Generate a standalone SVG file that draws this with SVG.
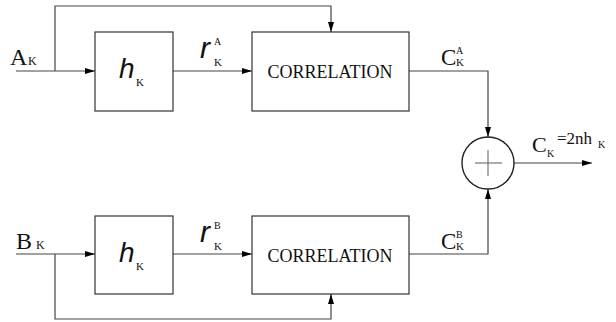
<svg xmlns="http://www.w3.org/2000/svg" width="616" height="322" viewBox="0 0 616 322">
<style>
.box{fill:#fff;stroke:#333;stroke-width:1.2}
.ln{fill:none;stroke:#444;stroke-width:1.2}
.s{font-family:"Liberation Serif","Times New Roman",serif;fill:#111}
.i{font-family:"Liberation Sans",Arial,sans-serif;font-style:italic;fill:#111}
</style>
<defs>
<marker id="ah" viewBox="0 0 10 6" refX="10" refY="3" markerWidth="10" markerHeight="6" markerUnits="userSpaceOnUse" orient="auto">
<path d="M0,0 L10,3 L0,6 Z" fill="#000"/>
</marker>
</defs>
<rect width="616" height="322" fill="#fff"/>
<g id="connectors">
<polyline class="ln" points="55,71 55,6 331,6 331,32" marker-end="url(#ah)"/>
<line class="ln" x1="16" y1="71" x2="95" y2="71" marker-end="url(#ah)"/>
<line class="ln" x1="173" y1="71" x2="252" y2="71" marker-end="url(#ah)"/>
<polyline class="ln" points="409,71 488,71 488,137" marker-end="url(#ah)"/>
<polyline class="ln" points="55,254 55,319 331,319 331,294" marker-end="url(#ah)"/>
<line class="ln" x1="16" y1="254" x2="95" y2="254" marker-end="url(#ah)"/>
<line class="ln" x1="173" y1="254" x2="252" y2="254" marker-end="url(#ah)"/>
<polyline class="ln" points="409,254 488,254 488,189" marker-end="url(#ah)"/>
<line class="ln" x1="514" y1="163" x2="592" y2="163" marker-end="url(#ah)"/>
</g>
<g id="labels">
<text class="s" x="10" y="65" font-size="24">A</text><text class="s" x="28" y="65" font-size="12">K</text>
<text class="s" x="16" y="249" font-size="24">B</text><text class="s" x="36" y="249" font-size="12">K</text>
<text class="i" x="200" y="58" font-size="30">r</text><text class="s" x="214" y="45" font-size="10">A</text><text class="s" x="214" y="66" font-size="11">K</text>
<text class="i" x="200" y="242" font-size="30">r</text><text class="s" x="214" y="229" font-size="10">B</text><text class="s" x="214" y="250" font-size="11">K</text>
<text class="s" x="441" y="65" font-size="23">C</text><text class="s" x="456" y="54" font-size="10">A</text><text class="s" x="456" y="66" font-size="11">K</text>
<text class="s" x="441" y="249" font-size="23">C</text><text class="s" x="456" y="238" font-size="10">B</text><text class="s" x="456" y="250" font-size="11">K</text>
<text class="s" x="532" y="152" font-size="22">C</text><text class="s" x="547" y="157" font-size="10">K</text><text class="s" x="557" y="144" font-size="17">=2nh</text><text class="s" x="598" y="148" font-size="10">K</text>
</g>
<g id="hA">
<rect class="box" x="95" y="32" width="78" height="79"/>
<text class="i" x="119" y="78" font-size="28">h</text><text class="s" x="136" y="86" font-size="11">K</text>
</g>
<g id="corrA">
<rect class="box" x="252" y="32" width="157" height="79"/>
<text class="s" x="330" y="78" font-size="18" text-anchor="middle">CORRELATION</text>
</g>
<g id="hB">
<rect class="box" x="95" y="216" width="78" height="78"/>
<text class="i" x="119" y="262" font-size="28">h</text><text class="s" x="136" y="270" font-size="11">K</text>
</g>
<g id="corrB">
<rect class="box" x="252" y="216" width="157" height="78"/>
<text class="s" x="330" y="262" font-size="18" text-anchor="middle">CORRELATION</text>
</g>
<g id="sum">
<circle cx="488" cy="163" r="26" fill="#fff" stroke="#222" stroke-width="1.4"/>
<line x1="475" y1="163" x2="502" y2="163" stroke="#777" stroke-width="1.2"/>
<line x1="488" y1="150" x2="488" y2="176" stroke="#777" stroke-width="1.2"/>
</g>
</svg>
